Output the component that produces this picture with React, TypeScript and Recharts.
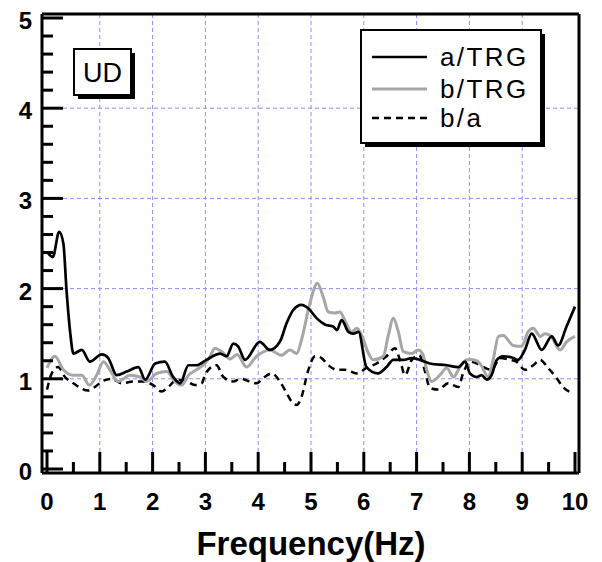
import React from 'react';
import { LineChart, Line, XAxis, YAxis, CartesianGrid } from 'recharts';

const xTicks = [0, 0.5, 1, 1.5, 2, 2.5, 3, 3.5, 4, 4.5, 5, 5.5, 6, 6.5, 7, 7.5, 8, 8.5, 9, 9.5, 10];
const yTicks = [0, 0.2, 0.4, 0.6, 0.8, 1, 1.2, 1.4, 1.6, 1.8, 2, 2.2, 2.4, 2.6, 2.8, 3, 3.2, 3.4, 3.6, 3.8, 4, 4.2, 4.4, 4.6, 4.8, 5];
const xGrid = [1, 2, 3, 4, 5, 6, 7, 8, 9];
const yGrid = [1, 2, 3, 4];

const seriesNames = ['a/TRG', 'b/TRG', 'b/a'];

const aFreq = [0, 0.11, 0.23, 0.31, 0.37, 0.44, 0.5, 0.66, 0.81, 1.04, 1.16, 1.32, 1.51, 1.73, 1.86, 2.05, 2.23, 2.39, 2.52, 2.68, 2.83, 3.02, 3.28, 3.4, 3.53, 3.62, 3.75, 4.03, 4.22, 4.41, 4.54, 4.66, 4.82, 4.95, 5.11, 5.27, 5.42, 5.49, 5.58, 5.71, 5.8, 5.9, 6.05, 6.27, 6.43, 6.56, 6.75, 6.91, 7.06, 7.25, 7.57, 7.79, 7.92, 8.01, 8.14, 8.23, 8.33, 8.42, 8.52, 8.64, 8.83, 8.92, 9.05, 9.18, 9.37, 9.56, 9.68, 9.84, 10];
const aVal = [2.41, 2.35, 2.63, 2.5, 1.98, 1.51, 1.28, 1.32, 1.19, 1.27, 1.23, 1.04, 1.08, 1.13, 0.99, 1.17, 1.19, 1.02, 0.95, 1.15, 1.15, 1.21, 1.28, 1.25, 1.39, 1.36, 1.21, 1.41, 1.32, 1.41, 1.62, 1.76, 1.82, 1.78, 1.67, 1.6, 1.58, 1.54, 1.65, 1.52, 1.5, 1.52, 1.13, 1.06, 1.13, 1.21, 1.21, 1.23, 1.21, 1.17, 1.15, 1.13, 1.19, 1.06, 1.02, 1.04, 0.99, 1.04, 1.21, 1.25, 1.23, 1.21, 1.32, 1.5, 1.32, 1.47, 1.37, 1.58, 1.8];

const bFreq = [0, 0.15, 0.31, 0.5, 0.66, 0.8, 0.94, 1.07, 1.19, 1.35, 1.57, 1.76, 1.89, 2.08, 2.27, 2.42, 2.55, 2.68, 2.83, 2.99, 3.09, 3.18, 3.31, 3.47, 3.6, 3.78, 3.97, 4.22, 4.44, 4.6, 4.73, 4.82, 4.98, 5.12, 5.23, 5.33, 5.45, 5.55, 5.64, 5.77, 5.87, 5.96, 6.09, 6.18, 6.37, 6.46, 6.56, 6.65, 6.75, 6.91, 7.03, 7.12, 7.19, 7.29, 7.44, 7.57, 7.7, 7.82, 7.95, 8.07, 8.2, 8.36, 8.45, 8.55, 8.64, 8.83, 8.99, 9.11, 9.21, 9.34, 9.43, 9.53, 9.72, 9.84, 10];
const bVal = [1.12, 1.25, 1.1, 1.04, 1.04, 0.93, 1.04, 1.19, 1.1, 0.97, 1.04, 1.02, 0.97, 1.06, 1.08, 0.97, 0.93, 1.04, 1.1, 1.17, 1.25, 1.34, 1.3, 1.22, 1.27, 1.13, 1.25, 1.32, 1.26, 1.32, 1.28, 1.43, 1.84, 2.06, 1.91, 1.74, 1.73, 1.74, 1.65, 1.52, 1.56, 1.48, 1.28, 1.21, 1.25, 1.47, 1.67, 1.53, 1.3, 1.28, 1.32, 1.27, 1.1, 0.97, 1.04, 1.12, 1.02, 1.13, 1.21, 1.21, 1.17, 1.02, 1.21, 1.47, 1.48, 1.37, 1.36, 1.52, 1.56, 1.47, 1.5, 1.48, 1.32, 1.41, 1.47];

const baFreq = [0, 0.09, 0.21, 0.34, 0.5, 0.78, 0.91, 1.04, 1.23, 1.41, 1.63, 1.82, 2.01, 2.17, 2.3, 2.46, 2.65, 2.8, 2.93, 2.99, 3.09, 3.21, 3.34, 3.53, 3.66, 3.97, 4.1, 4.26, 4.41, 4.54, 4.63, 4.73, 4.82, 4.95, 5.08, 5.2, 5.33, 5.49, 5.64, 5.87, 6.05, 6.24, 6.43, 6.59, 6.69, 6.78, 6.91, 7.05, 7.16, 7.25, 7.41, 7.6, 7.79, 7.88, 8.01, 8.14, 8.3, 8.42, 8.58, 8.77, 8.89, 9.05, 9.21, 9.34, 9.49, 9.65, 9.77, 9.97];
const baVal = [0.88, 1.06, 1.13, 1.02, 0.95, 0.87, 0.91, 0.97, 1.0, 0.95, 0.97, 0.97, 0.93, 0.86, 0.91, 0.99, 0.97, 0.93, 0.95, 1.04, 1.12, 1.15, 1.02, 0.97, 1.0, 0.95, 1.01, 1.06, 0.97, 0.84, 0.75, 0.71, 0.8, 1.1, 1.25, 1.23, 1.15, 1.1, 1.1, 1.06, 1.12, 1.17, 1.25, 1.34, 1.2, 1.04, 1.21, 1.26, 1.08, 0.9, 0.88, 0.95, 0.91, 1.06, 1.19, 1.17, 1.12, 1.1, 1.23, 1.21, 1.19, 1.1, 1.15, 1.21, 1.12, 1.01, 0.91, 0.84];

const toData = (f: number[], v: number[]) => f.map((x, i) => ({ f: x, v: v[i] }));
const aData = toData(aFreq, aVal);
const bData = toData(bFreq, bVal);
const baData = toData(baFreq, baVal);

const FONT = '"Liberation Sans", Arial, sans-serif';
const GRAY = '#a6a6a6';

const isMajor = (v: number) => Math.abs(v - Math.round(v)) < 1e-6;

const makeTick = (side: 'bottom' | 'top' | 'left' | 'right', labels: boolean) => (props: any) => {
  const { x, y, payload } = props;
  const v = payload.value;
  const major = isMajor(v);
  const len = major ? 21 : 11;
  let x2 = x, y2 = y;
  if (side === 'bottom') y2 = y - len;
  if (side === 'top') y2 = y + len;
  if (side === 'left') x2 = x + len;
  if (side === 'right') x2 = x - len;
  return (
    <g>
      <line x1={x} y1={y} x2={x2} y2={y2} stroke="#000" strokeWidth={3} />
      {labels && major && side === 'bottom' && (
        <text x={x} y={y + 37} textAnchor="middle" fontFamily={FONT} fontWeight="bold" fontSize={24} fill="#000">
          {Math.round(v)}
        </text>
      )}
      {labels && major && side === 'left' && (
        <text x={x - 10} y={y + 11} textAnchor="end" fontFamily={FONT} fontWeight="bold" fontSize={24} fill="#000">
          {Math.round(v)}
        </text>
      )}
    </g>
  );
};

export default function App() {
  return (
    <div style={{ position: 'absolute', left: 0, top: 0, width: 602, height: 562, background: '#fff' }}>
      <LineChart width={602} height={562} margin={{ top: 4, right: 13, bottom: 49, left: 2 }}>
        <CartesianGrid
          xAxisId="b"
          yAxisId="l"
          verticalValues={xGrid}
          horizontalValues={yGrid}
          stroke="#8c8cff"
          strokeDasharray="4 3"
          strokeWidth={1}
        />
        <XAxis xAxisId="b" dataKey="f" type="number" domain={[0, 10]} ticks={xTicks} interval={0}
          padding={{ left: 5, right: 4 }} height={40} tickSize={0} tickMargin={0} tickLine={false}
          axisLine={{ stroke: '#000', strokeWidth: 3 }} tick={makeTick('bottom', true)} allowDecimals />
        <XAxis xAxisId="t" orientation="top" dataKey="f" type="number" domain={[0, 10]} ticks={xTicks} interval={0}
          padding={{ left: 5, right: 4 }} height={10} tickSize={0} tickMargin={0} tickLine={false}
          axisLine={{ stroke: '#000', strokeWidth: 3 }} tick={makeTick('top', false)} />
        <YAxis yAxisId="l" type="number" domain={[0, 5]} ticks={yTicks} interval={0}
          padding={{ top: 4, bottom: 4 }} width={40} tickSize={0} tickMargin={0} tickLine={false}
          axisLine={{ stroke: '#000', strokeWidth: 3 }} tick={makeTick('left', true)} />
        <YAxis yAxisId="r" orientation="right" type="number" domain={[0, 5]} ticks={yTicks} interval={0}
          padding={{ top: 4, bottom: 4 }} width={10} tickSize={0} tickMargin={0} tickLine={false}
          axisLine={{ stroke: '#000', strokeWidth: 3 }} tick={makeTick('right', false)} />
        <Line xAxisId="b" yAxisId="l" data={baData} dataKey="v" name={seriesNames[2]} type="monotone"
          stroke="#000" strokeWidth={2.5} strokeDasharray="7 5" dot={false} isAnimationActive={false} />
        <Line xAxisId="b" yAxisId="l" data={bData} dataKey="v" name={seriesNames[1]} type="monotone"
          stroke={GRAY} strokeWidth={3} dot={false} isAnimationActive={false} />
        <Line xAxisId="b" yAxisId="l" data={aData} dataKey="v" name={seriesNames[0]} type="monotone"
          stroke="#000" strokeWidth={2.7} dot={false} isAnimationActive={false} />
      </LineChart>
      <svg width={602} height={562} style={{ position: 'absolute', left: 0, top: 0, pointerEvents: 'none' }}>
        {/* UD box */}
        <rect x={78} y={53} width={57} height={46} fill="#000" />
        <rect x={74} y={49} width={57} height={46} fill="#fff" stroke="#000" strokeWidth={2} />
        <text x={102.5} y={82} textAnchor="middle" fontFamily={FONT} fontSize={27} fill="#000">UD</text>
        {/* Legend */}
        <rect x={365} y={34} width={180} height={113} fill="#000" />
        <rect x={361} y={30} width={180} height={113} fill="#fff" stroke="#000" strokeWidth={2} />
        <line x1={372} y1={57} x2={427} y2={57} stroke="#000" strokeWidth={2.7} />
        <line x1={372} y1={89} x2={427} y2={89} stroke={GRAY} strokeWidth={3} />
        <line x1={372} y1={118} x2={427} y2={118} stroke="#000" strokeWidth={2.5} strokeDasharray="7 5" />
        <text x={440} y={66} fontFamily={FONT} fontSize={26} letterSpacing={2.4} fill="#000">{seriesNames[0]}</text>
        <text x={440} y={98} fontFamily={FONT} fontSize={26} letterSpacing={2.4} fill="#000">{seriesNames[1]}</text>
        <text x={440} y={127} fontFamily={FONT} fontSize={26} letterSpacing={2.4} fill="#000">{seriesNames[2]}</text>
        {/* X axis title */}
        <text x={311} y={555} textAnchor="middle" fontFamily={FONT} fontWeight="bold" fontSize={33} fill="#000">Frequency(Hz)</text>
      </svg>
    </div>
  );
}
